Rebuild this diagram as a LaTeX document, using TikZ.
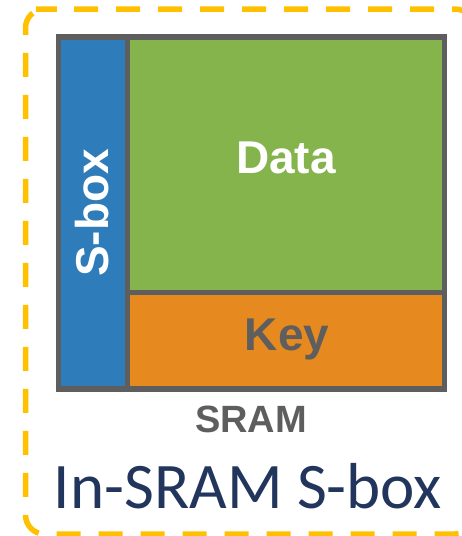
\documentclass[tikz,border=0pt]{standalone}
\usepackage{fontspec}
\setmainfont{Liberation Sans}
\newfontfamily\titlefont{Carlito}
\definecolor{sboxblue}{HTML}{2E7DBA}
\definecolor{datagreen}{HTML}{84B44B}
\definecolor{keyorange}{HTML}{E68A20}
\definecolor{edgegray}{HTML}{5E5E5E}
\definecolor{frameyellow}{HTML}{FFC000}
\definecolor{titlenavy}{HTML}{22355C}
\tikzset{
  cell/.style={draw=edgegray, line width=5.5pt, inner sep=0pt, minimum width=#1},
  celltext/.style={font=\bfseries\fontsize{46}{50}\selectfont, inner sep=0pt, anchor=base},
  frame/.style={draw=frameyellow, line width=5.5pt, dash pattern=on 24pt off 18pt, rounded corners=19pt},
}
\begin{document}
\begin{tikzpicture}[x=1pt, y=-1pt]
  \useasboundingbox (0,0) rectangle (462,536);
  \clip (0,0) rectangle (462,536);

  % dashed enclosure, started on the top edge so its dashes line up there
  \draw[frame] (55,9) -- (474,9) -- (474,534) -- (25.5,534) -- (25.5,9) -- cycle;

  % SRAM array: S-box column, data block and key block
  \node[cell=69pt, fill=sboxblue, minimum height=352pt] (sbox) at (93,213) {};
  \node[cell=317pt, fill=datagreen, minimum height=255.5pt] (data) at (286,164.75) {};
  \node[cell=317pt, fill=keyorange, minimum height=96.5pt] (key) at (286,340.75) {};

  \node[celltext, text=white] (datalbl) at ([yshift=-8.25pt]data.center) {Data};
  \node[celltext, text=edgegray] (keylbl) at ([xshift=1pt, yshift=-9.25pt]key.center) {Key};
  \node[celltext, text=white, rotate=90] (sboxlbl) at ([xshift=15pt]sbox.center) {S-box};

  \node[font=\bfseries\fontsize{38}{42}\selectfont, text=edgegray, inner sep=0pt, anchor=base]
    (sram) at (251,432) {SRAM};
  \node[font=\titlefont\fontsize{65}{70}\selectfont, text=titlenavy, inner sep=0pt, anchor=base]
    (title) at (248,508) {In-SRAM S-box};
\end{tikzpicture}
\end{document}
